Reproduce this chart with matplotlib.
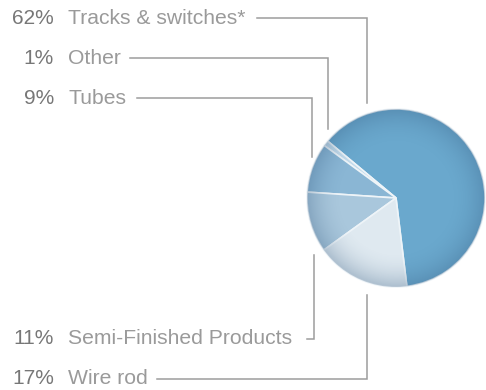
import numpy as np
import matplotlib
matplotlib.use("Agg")
import matplotlib.pyplot as plt
from matplotlib.patches import Circle

labels = ["Tracks & switches*", "Other", "Tubes", "Semi-Finished Products", "Wire rod"]
shares = [62, 1, 9, 11, 17]
colors = ["#6aa8cd", "#c3dbeb", "#8ab6d4", "#a9c7dc", "#dfe9f0"]

# label rows (pixel y from top) and leader lines, in the order of labels
label_y = [18, 58, 98, 339, 379]
leaders = [
    [(257, 18), (367, 18), (367, 103)],
    [(130, 58), (328, 58), (328, 129)],
    [(137, 98), (312, 98), (312, 157)],
    [(307, 339), (314, 339), (314, 255)],
    [(157, 379), (367, 379), (367, 295)],
]

W, H = 486, 390
plt.rcParams["font.family"] = ["Liberation Sans", "DejaVu Sans"]
fig = plt.figure(figsize=(W / 100, H / 100), dpi=100)
ax = fig.add_axes([0, 0, 1, 1])

cx, cy, r = 396, H - 198, 89
wedges, _ = ax.pie(shares, colors=colors, startangle=-83, counterclock=True,
                   center=(cx, cy), radius=r, frame=True,
                   wedgeprops=dict(edgecolor="#eef4f8", linewidth=1.2))
ax.set_xlim(0, W)
ax.set_ylim(0, H)
ax.set_aspect("equal")
ax.axis("off")

# darker rim shading
yy, xx = np.mgrid[-1:1:300j, -1:1:300j]
rr = np.sqrt(xx ** 2 + yy ** 2)
shade = np.zeros((300, 300, 4))
shade[..., 0] = 0.2
shade[..., 1] = 0.35
shade[..., 2] = 0.5
shade[..., 3] = np.clip((rr - 0.6) / 0.4, 0, 1) ** 2 * 0.3
img = ax.imshow(shade, extent=(cx - r, cx + r, cy - r, cy + r), zorder=3)
img.set_clip_path(Circle((cx, cy), r, transform=ax.transData))

for lab, val, y, pts in zip(labels, shares, label_y, leaders):
    ax.text(54, H - y, f"{val}%", ha="right", va="center", fontsize=15,
            color="#777777")
    ax.text(68, H - y, lab, ha="left", va="center", fontsize=15.2, color="#9a9a9a")
    xs = [p[0] for p in pts]
    ys = [H - p[1] for p in pts]
    ax.plot(xs, ys, color="#9c9c9c", linewidth=1.1, solid_joinstyle="miter")

fig.savefig("out.png", dpi=100)
